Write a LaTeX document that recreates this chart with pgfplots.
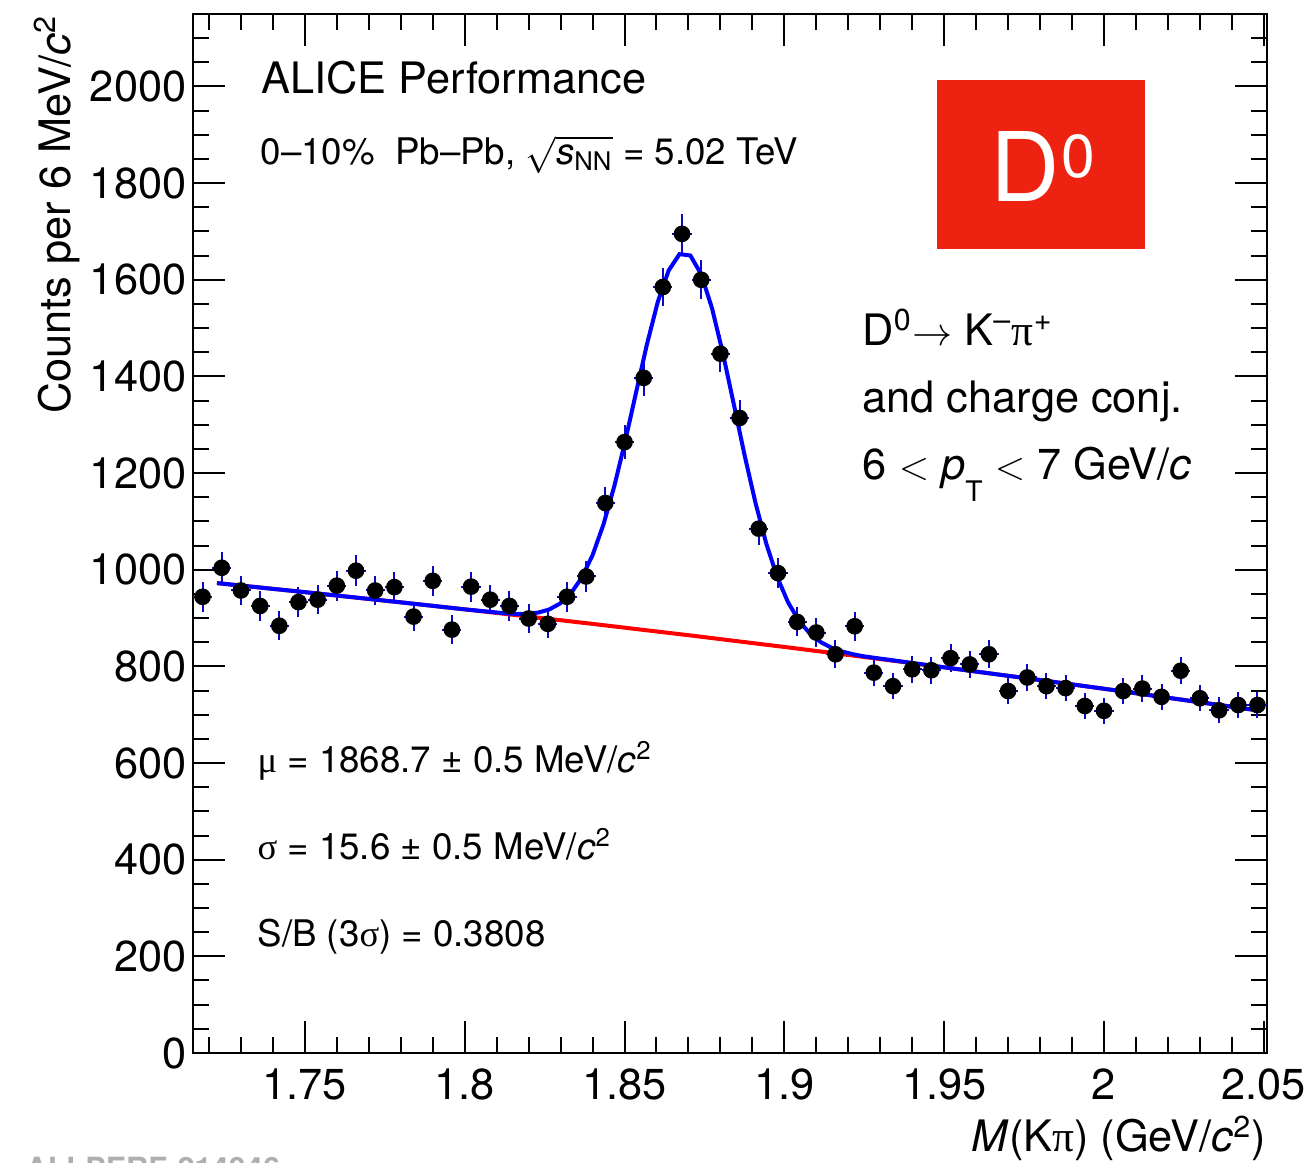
\documentclass[border=0pt]{standalone}
\usepackage{fontspec}
\setmainfont{TeX Gyre Heros}
\newfontfamily\grk{Liberation Serif}
\usepackage{amsmath}
\usepackage{pgfplots}
\pgfplotsset{compat=1.18}
\usepackage{pgfplotstable}
\usetikzlibrary{calc}
\definecolor{errblue}{RGB}{10,10,190}
\definecolor{aliceRed}{RGB}{238,34,17}

\pgfplotstableread{
x y ex ey
1.718 944 0.003 30.7
1.724 1004 0.003 31.7
1.730 957 0.003 30.9
1.736 925 0.003 30.4
1.742 884 0.003 29.7
1.748 933 0.003 30.5
1.754 938 0.003 30.6
1.760 967 0.003 31.1
1.766 998 0.003 31.6
1.772 957 0.003 30.9
1.778 964 0.003 31.0
1.784 903 0.003 30.0
1.790 977 0.003 31.3
1.796 876 0.003 29.6
1.802 965 0.003 31.1
1.808 938 0.003 30.6
1.814 925 0.003 30.4
1.820 899 0.003 30.0
1.826 888 0.003 29.8
1.832 944 0.003 30.7
1.838 986 0.003 31.4
1.844 1138 0.003 33.7
1.850 1264 0.003 35.6
1.856 1397 0.003 37.4
1.862 1585 0.003 39.8
1.868 1695 0.003 41.2
1.874 1600 0.003 40.0
1.880 1447 0.003 38.0
1.886 1314 0.003 36.2
1.892 1085 0.003 32.9
1.898 993 0.003 31.5
1.904 892 0.003 29.9
1.910 870 0.003 29.5
1.916 825 0.003 28.7
1.922 883 0.003 29.7
1.928 787 0.003 28.1
1.934 759 0.003 27.5
1.940 794 0.003 28.2
1.946 792 0.003 28.1
1.952 817 0.003 28.6
1.958 804 0.003 28.4
1.964 825 0.003 28.7
1.970 749 0.003 27.4
1.976 777 0.003 27.9
1.982 759 0.003 27.5
1.988 755 0.003 27.5
1.994 718 0.003 26.8
2.000 708 0.003 26.6
2.006 749 0.003 27.4
2.012 754 0.003 27.5
2.018 737 0.003 27.1
2.024 791 0.003 28.1
2.030 734 0.003 27.1
2.036 709 0.003 26.6
2.042 720 0.003 26.8
2.048 720 0.003 26.8
}\datatab

\pgfplotstableread{
x y
1.7225 972.3
1.7500 953.6
1.7800 932.5
1.8000 918.0
1.8128 908.5
1.8400 887.9
1.8706 864.0
1.9012 839.2
1.9250 819.4
1.9500 798.0
1.9800 771.7
2.0000 753.7
2.0480 709.0
}\bkgtab

\pgfplotstableread{
x y
1.7225 972.3
1.7500 953.6
1.7800 932.5
1.8000 918.0
1.8128 909.7
1.8162 908.6
1.8196 908.9
1.8230 911.3
1.8264 917.6
1.8298 929.9
1.8332 950.9
1.8366 983.4
1.8400 1030.1
1.8434 1093.3
1.8468 1172.7
1.8502 1265.6
1.8536 1366.4
1.8570 1466.0
1.8604 1554.0
1.8638 1619.2
1.8672 1653.0
1.8706 1650.3
1.8740 1611.1
1.8774 1540.5
1.8808 1447.1
1.8842 1342.1
1.8876 1235.9
1.8910 1137.6
1.8944 1052.8
1.8978 984.2
1.9012 932.0
1.9046 894.1
1.9080 867.8
1.9114 850.1
1.9148 838.4
1.9182 830.5
1.9216 824.9
1.9250 820.6
1.9500 798.0
1.9800 771.7
2.0000 753.7
2.0480 709.0
}\fittab

\begin{document}
\begin{tikzpicture}
\begin{axis}[name=ax, scale only axis, width=322.2pt, height=311.7pt,
  xmin=1.715, xmax=2.051, ymin=0, ymax=2150,
  xtick={1.75,1.8,1.85,1.9,1.95,2,2.05},
  minor xtick={1.72,1.73,1.74,1.76,1.77,1.78,1.79,1.81,1.82,1.83,1.84,1.86,1.87,1.88,1.89,1.91,1.92,1.93,1.94,1.96,1.97,1.98,1.99,2.01,2.02,2.03,2.04},
  ytick={0,200,400,600,800,1000,1200,1400,1600,1800,2000},
  minor ytick={50,100,150,250,300,350,450,500,550,650,700,750,850,900,950,1050,1100,1150,1250,1300,1350,1450,1500,1550,1650,1700,1750,1850,1900,1950,2050,2100},
  tick align=inside, major tick length=9.6pt, minor tick length=4.8pt,
  every tick/.style={black, line width=0.6pt},
  axis line style={line width=0.8pt},
  xticklabel style={font=\fontsize{13}{15}\selectfont, anchor=base, inner sep=0pt, yshift=-14.1pt},
  yticklabel style={font=\fontsize{13}{15}\selectfont, anchor=east, inner sep=0pt, xshift=-1.8pt},
  /pgf/number format/assume math mode=true,
  /pgf/number format/1000 sep={},
  scaled y ticks=false, scaled x ticks=false,
  clip=false,
]
\addplot[only marks, mark=*, mark size=2.3pt, mark options={fill=black, draw=black},
  error bars/.cd, x dir=both, x explicit, y dir=both, y explicit,
  error bar style={errblue, line width=0.6pt}, error mark=none]
  table[x=x, y=y, x error=ex, y error=ey] {\datatab};
\addplot[red, line width=1.2pt, no marks] table[x=x, y=y] {\bkgtab};
\addplot[blue, line width=1.2pt, no marks] table[x=x, y=y] {\fittab};

\node[anchor=base west, inner sep=0pt, font=\fontsize{13}{15}\selectfont] at (rel axis cs:0.0633,0.923) {ALICE Performance};
\node[anchor=base west, inner sep=0pt, font=\fontsize{11}{13}\selectfont] at (rel axis cs:0.0624,0.8556) {0--10\%\ \ Pb--Pb, $\sqrt{\text{\itshape s}_{\text{NN}}}$ = 5.02 TeV};

\fill[aliceRed] (rel axis cs:0.6927,0.9365) rectangle (rel axis cs:0.8864,0.7738);
\node[anchor=base, text=white, inner sep=0pt] at (rel axis cs:0.7914,0.8191) {\fontsize{28.8}{30}\selectfont D\hspace{0.6pt}\raisebox{7.2pt}{\fontsize{18.2}{20}\selectfont 0}};

\node[anchor=base west, inner sep=0pt, font=\fontsize{13}{15}\selectfont] at (rel axis cs:0.6229,0.6814) {D\textsuperscript{0}$\rightarrow$ K\textsuperscript{--}{\grk π}\textsuperscript{+}};
\node[anchor=base west, inner sep=0pt, font=\fontsize{13}{15}\selectfont] at (rel axis cs:0.6229,0.616) {and charge conj.};
\node[anchor=base west, inner sep=0pt, font=\fontsize{13}{15}\selectfont] at (rel axis cs:0.6229,0.5515) {6 $<$ \textit{p}\raisebox{-6.6pt}{\fontsize{8.5}{10}\selectfont T} $<$ 7 GeV/\textit{c}};

\node[anchor=base west, inner sep=0pt, font=\fontsize{11}{13}\selectfont] at (rel axis cs:0.0596,0.2695) {{\grk μ} = 1868.7 ± 0.5 MeV/\textit{c}\textsuperscript{2}};
\node[anchor=base west, inner sep=0pt, font=\fontsize{11}{13}\selectfont] at (rel axis cs:0.0596,0.1858) {{\grk σ} = 15.6 ± 0.5 MeV/\textit{c}\textsuperscript{2}};
\node[anchor=base west, inner sep=0pt, font=\fontsize{11}{13}\selectfont] at (rel axis cs:0.0596,0.102) {S/B (3{\grk σ}) = 0.3808};

\node[rotate=90, anchor=base east, inner sep=0pt, font=\fontsize{13}{15}\selectfont] at (rel axis cs:-0.1145,1) {Counts per 6 MeV/\textit{c}\textsuperscript{2}};
\node[anchor=base east, inner sep=0pt, font=\fontsize{13}{15}\selectfont] at (rel axis cs:1,-0.0953) {\textit{M}(K{\grk π}) (GeV/\textit{c}\textsuperscript{2})};
\node[anchor=base west, inner sep=0pt, text={rgb,255:red,175;green,175;blue,175}, font=\fontsize{9.2}{11}\selectfont\bfseries] at (rel axis cs:-0.1564,-0.1213) {ALI-PERF-214046};
\end{axis}
\pgfresetboundingbox
\path[use as bounding box] ($(ax.south west)+(-57.9pt,-33pt)$) rectangle ($(ax.north east)+(11.7pt,4.2pt)$);
\end{tikzpicture}
\end{document}
